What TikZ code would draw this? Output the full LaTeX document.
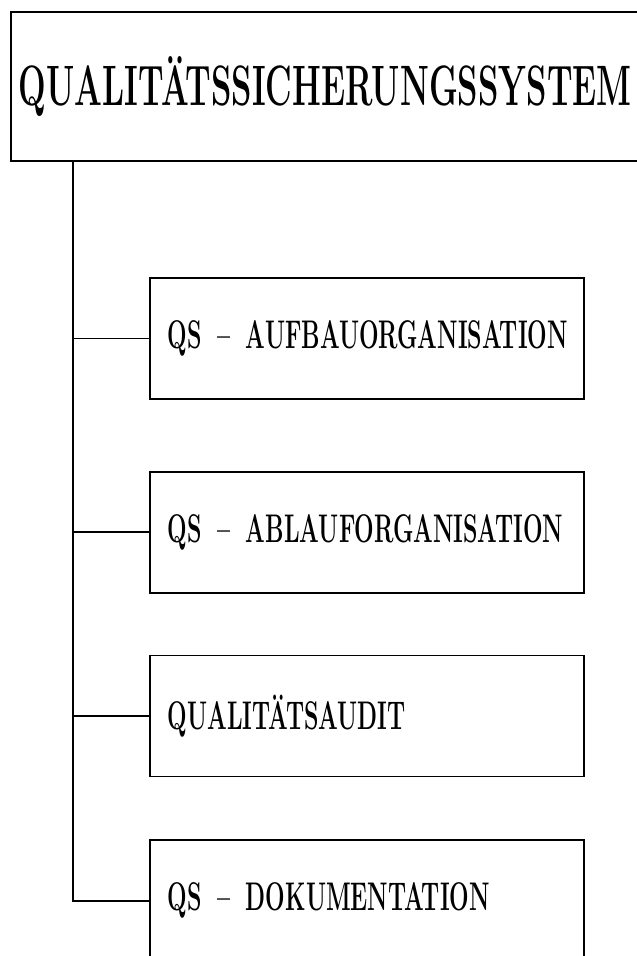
\documentclass[tikz,border=0pt]{standalone}
\usepackage{graphicx}
\usetikzlibrary{positioning}

\newcommand{\narrowtext}[2][0.58]{\scalebox{#1}[1]{#2}}

\begin{document}
\begin{tikzpicture}[x=1pt,y=1pt,
  box/.style={draw, line width=1.8pt, align=left, anchor=north west},
  part/.style={box, text width=398pt, inner xsep=18pt, minimum height=121pt,
    font=\fontsize{40}{40}\selectfont\bfseries},
  link/.style={line width=1.8pt}]
\useasboundingbox (0,0) rectangle (637,-956);
\clip (0,0) rectangle (637,-956);

\node [box, text width=640pt, inner xsep=8pt, minimum height=149pt,
  font=\fontsize{57}{57}\selectfont\bfseries] (system) at (10,-11)
  {\narrowtext[0.574]{QUALITÄTSSICHERUNGSSYSTEM}};

\node [part] (aufbau) at (149,-277) {\narrowtext{QS~~--~~AUFBAUORGANISATION}};
\node [part, below=71pt of aufbau] (ablauf) {\narrowtext{QS~~--~~ABLAUFORGANISATION}};
\node [part, below=61pt of ablauf] (audit) {\narrowtext{QUALITÄTSAUDIT}};
\node [part, below=62pt of audit] (doku) {\narrowtext{QS~~--~~DOKUMENTATION}};

\coordinate (trunk) at ([xshift=63pt]system.south west);
\foreach \part in {aufbau,ablauf,audit}
  \draw [link] (trunk |- \part.west) -- (\part.west);
\draw [link] (trunk) |- (doku.west);

\end{tikzpicture}
\end{document}
